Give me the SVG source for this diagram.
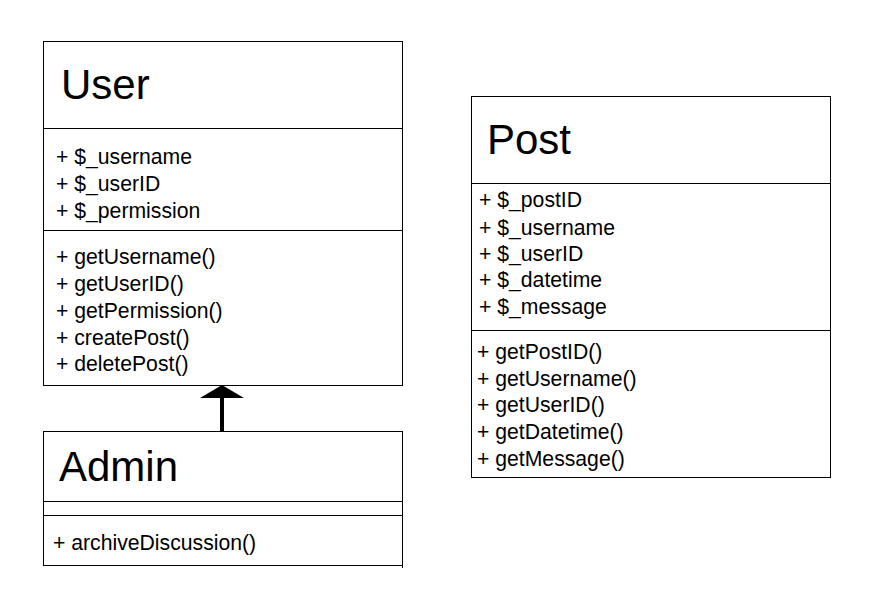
<svg xmlns="http://www.w3.org/2000/svg" width="882" height="605" viewBox="0 0 882 605">
<style>
.box{fill:#fff;stroke:#000;stroke-width:1}
.sep{stroke:#000;stroke-width:1}
.title{font-family:"Liberation Sans",Arial,sans-serif;font-size:42px;fill:#000}
.item{font-family:"Liberation Sans",Arial,sans-serif;font-size:21.2px;fill:#000}
</style>
<rect width="882" height="605" fill="#fff"/>
<g id="User">
<rect class="box" x="43.5" y="41.5" width="359" height="344"/>
<line class="sep" x1="43.5" y1="128.5" x2="402.5" y2="128.5"/>
<line class="sep" x1="43.5" y1="230.5" x2="402.5" y2="230.5"/>
<text class="title" x="61" y="99">User</text>
<text class="item" x="56" y="164">+ $_username</text>
<text class="item" x="56" y="191">+ $_userID</text>
<text class="item" x="56" y="218">+ $_permission</text>
<text class="item" x="56" y="264">+ getUsername()</text>
<text class="item" x="56" y="291">+ getUserID()</text>
<text class="item" x="56" y="318">+ getPermission()</text>
<text class="item" x="56" y="345">+ createPost()</text>
<text class="item" x="56" y="371">+ deletePost()</text>
</g>
<g id="Post">
<rect class="box" x="471.5" y="96.5" width="359" height="381"/>
<line class="sep" x1="471.5" y1="183.5" x2="830.5" y2="183.5"/>
<line class="sep" x1="471.5" y1="330.5" x2="830.5" y2="330.5"/>
<text class="title" x="487" y="154">Post</text>
<text class="item" x="479" y="207">+ $_postID</text>
<text class="item" x="479" y="235">+ $_username</text>
<text class="item" x="479" y="261">+ $_userID</text>
<text class="item" x="479" y="287">+ $_datetime</text>
<text class="item" x="479" y="314">+ $_message</text>
<text class="item" x="477" y="359">+ getPostID()</text>
<text class="item" x="477" y="386">+ getUsername()</text>
<text class="item" x="477" y="412">+ getUserID()</text>
<text class="item" x="477" y="439">+ getDatetime()</text>
<text class="item" x="477" y="466">+ getMessage()</text>
</g>
<g id="Admin">
<rect class="box" x="43.5" y="431.5" width="359" height="134"/>
<line class="sep" x1="402.5" y1="565" x2="402.5" y2="568"/>
<line class="sep" x1="43.5" y1="501.5" x2="402.5" y2="501.5"/>
<line class="sep" x1="43.5" y1="515.5" x2="402.5" y2="515.5"/>
<text class="title" x="59" y="481">Admin</text>
<text class="item" x="53" y="550">+ archiveDiscussion()</text>
</g>
<g id="connectors">
<line x1="222" y1="431" x2="222" y2="396" stroke="#000" stroke-width="4"/>
<polygon points="222,385 244,398 200,398" fill="#000"/>
</g>
</svg>
